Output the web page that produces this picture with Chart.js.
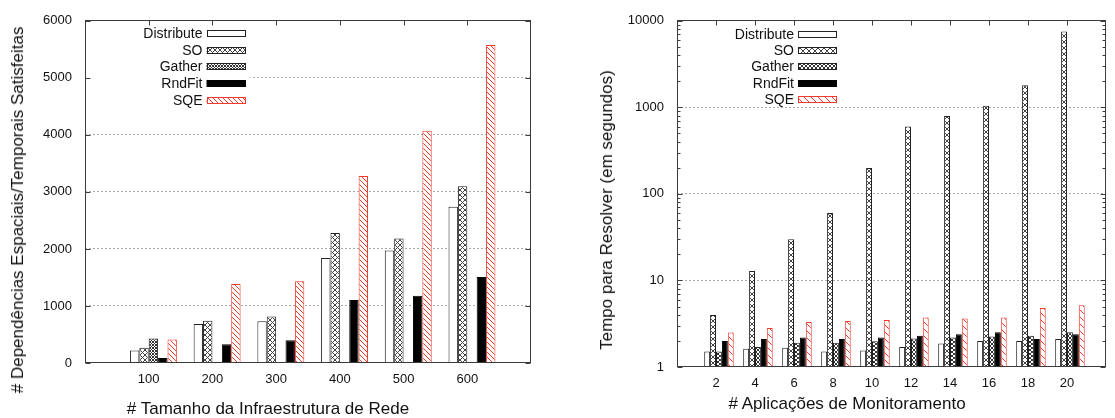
<!DOCTYPE html>
<html>
<head>
<meta charset="utf-8">
<script src="https://cdn.jsdelivr.net/npm/chart.js@4.4.1/dist/chart.umd.min.js"></script>
<style>
    html, body { margin: 0; padding: 0; background: #fff; }
    body { width: 1115px; height: 418px; position: relative; overflow: hidden;
        font-family: 'Liberation Sans', Arial, sans-serif; color: #111; }
    .box { position: absolute; top: 0; }
    .title { position: absolute; font-size: 17px; white-space: nowrap; transform: translate(-50%, -50%); }
    .title.rot { transform: translate(-50%, -50%) rotate(-90deg); }
</style>
</head>
<body>
<div class="box" style="left:0;width:545px;height:418px"><canvas id="sizeChart" width="545" height="418"></canvas></div>
<div class="box" style="left:560px;width:555px;height:418px"><canvas id="timeChart" width="555" height="418"></canvas></div>
<div class="title" style="left:268px;top:409px"># Tamanho da Infraestrutura de Rede</div>
<div class="title rot" style="left:18px;top:210px"># Dependências Espaciais/Temporais Satisfeitas</div>
<div class="title" style="left:847px;top:404px"># Aplicações de Monitoramento</div>
<div class="title rot" style="left:607px;top:210px">Tempo para Resolver (em segundos)</div>
<script>
/* Left chart: dependencies satisfied per network size */
const sizeLabels = ['100', '200', '300', '400', '500', '600'];
const sizeDistribute = [220, 685, 731, 1841, 1974, 2739];
const sizeSO = [268, 742, 817, 2279, 2181, 3101];
const sizeGather = [428, null, null, null, null, null];
const sizeRndFit = [86, 328, 397, 1105, 1180, 1507];
const sizeSQE = [414, 1387, 1433, 3280, 4074, 5575];
const sizeTicks = [0, 1000, 2000, 3000, 4000, 5000, 6000];

/* Right chart: time to solve per number of monitoring apps */
const appLabels = ['2', '4', '6', '8', '10', '12', '14', '16', '18', '20'];
const timeDistribute = [1.51, 1.62, 1.67, 1.51, 1.55, 1.70, 1.87, 2.0, 2.0, 2.1];
const timeSO = [4.0, 12.9, 30, 60, 199, 600, 795, 1045, 1806, 7540];
const timeGather = [1.51, 1.70, 1.9, 1.9, 1.99, 2.13, 2.19, 2.25, 2.29, 2.52];
const timeRndFit = [2.0, 2.1, 2.19, 2.1, 2.19, 2.29, 2.39, 2.52, 2.1, 2.39];
const timeSQE = [2.5, 2.83, 3.32, 3.41, 3.5, 3.72, 3.63, 3.72, 4.81, 5.16];
const timeTicks = [1, 10, 100, 1000, 10000];

const RED = '#ee3b2c';
Chart.defaults.font.family = "'Liberation Sans', Arial, sans-serif";
Chart.defaults.color = '#111';

function hatch(ctx, size, color, dirs, width) {
    var c = document.createElement('canvas');
    c.width = size;
    c.height = size;
    var g = c.getContext('2d');
    g.fillStyle = '#fff';
    g.fillRect(0, 0, size, size);
    g.strokeStyle = color;
    g.lineWidth = width || 1;
    for (let k = -size; k <= size; k += size) {
        if (dirs.indexOf('\\') > -1) {
            g.beginPath(); g.moveTo(k, 0); g.lineTo(k + size, size); g.stroke();
        }
        if (dirs.indexOf('/') > -1) {
            g.beginPath(); g.moveTo(k, size); g.lineTo(k + size, 0); g.stroke();
        }
    }
    return ctx.createPattern(c, 'repeat');
}

function pad(list) {
    return [null].concat(list, [null]);
}

function buildSets(ctx, series, sizes) {
    return [
        // empty slot, like the gnuplot histogram gap
        { label: '', data: [] },
        { label: 'Distribute', data: pad(series[0]), backgroundColor: '#fff', borderColor: '#222' },
        { label: 'SO', data: pad(series[1]), backgroundColor: hatch(ctx, sizes[0], '#444', '\\/'), borderColor: '#222' },
        { label: 'Gather', data: pad(series[2]), backgroundColor: hatch(ctx, sizes[1], '#333', '\\/'), borderColor: '#222' },
        { label: 'RndFit', data: pad(series[3]), backgroundColor: '#000', borderColor: '#000' },
        { label: 'SQE', data: pad(series[4]), backgroundColor: hatch(ctx, sizes[2], RED, '\\'), borderColor: RED }
    ];
}

/* key box, border and inward tick marks */
const gnuplotFrame = {
    id: 'gnuplotFrame',
    afterDatasetsDraw(chart, args, opts) {
        const ctx = chart.ctx;
        const a = chart.chartArea;
        const x = chart.scales.x;
        const y = chart.scales.y;
        ctx.save();
        var sets = chart.data.datasets.filter(function(d) { return d.label; });
        var sx = a.left + opts.keyLeft;
        ctx.fillStyle = '#fff';
        ctx.fillRect(a.left + 1, a.top + opts.keyTop - opts.keyStep / 2,
            opts.keyLeft + opts.keyW + 4, sets.length * opts.keyStep);
        ctx.font = "14px 'Liberation Sans', Arial, sans-serif";
        ctx.textAlign = 'right';
        ctx.textBaseline = 'middle';
        sets.forEach(function(d, i) {
            var cy = Math.round(a.top + opts.keyTop + i * opts.keyStep);
            ctx.fillStyle = d.backgroundColor;
            ctx.fillRect(sx, cy - 3, opts.keyW, 7);
            ctx.strokeStyle = d.borderColor;
            ctx.lineWidth = 1;
            ctx.strokeRect(Math.round(sx) + 0.5, cy - 2.5, opts.keyW - 1, 6);
            ctx.fillStyle = '#111';
            ctx.fillText(d.label, sx - 4, cy + 1);
        });

        var L = Math.floor(a.left) + 0.5, R = Math.floor(a.right) - 0.5;
        var T = Math.floor(a.top) + 0.5, B = Math.floor(a.bottom) - 0.5;
        ctx.strokeStyle = '#3c3c3c';
        ctx.lineWidth = 1;
        ctx.beginPath();
        y.ticks.forEach(function(t) {
            var py = Math.round(y.getPixelForValue(t.value)) + 0.5;
            ctx.moveTo(L, py); ctx.lineTo(L + 5, py);
            ctx.moveTo(R, py); ctx.lineTo(R - 5, py);
            if (opts.minor && t.value < y.max) {
                for (let m = 2; m < 10; m++) {
                    var my = Math.round(y.getPixelForValue(t.value * m)) + 0.5;
                    ctx.moveTo(L, my); ctx.lineTo(L + 3, my);
                    ctx.moveTo(R, my); ctx.lineTo(R - 3, my);
                }
            }
        });
        x.ticks.forEach(function(t, i) {
            if (!t.label) return;
            var px = Math.round(x.getPixelForTick(i)) + 0.5;
            ctx.moveTo(px, T); ctx.lineTo(px, T + 5);
        });
        ctx.stroke();
        ctx.strokeRect(L, T, R - L, B - T);
        ctx.restore();
    }
};

function makeChart(id, labels, series, sizes, yAxis, layout, key) {
    const ctx = document.getElementById(id).getContext('2d');
    return new Chart(ctx, {
        type: 'bar',
        data: {
            labels: [''].concat(labels, ['']),
            datasets: buildSets(ctx, series, sizes)
        },
        options: {
            responsive: false,
            animation: false,
            layout: { padding: layout.padding },
            datasets: {
                bar: { categoryPercentage: layout.catPct, barPercentage: 1, borderWidth: 1 }
            },
            scales: {
                x: {
                    offset: false,
                    grid: { display: false, drawTicks: false },
                    border: { display: false },
                    ticks: { padding: layout.xPad, font: { size: 13 }, autoSkip: false, maxRotation: 0 },
                    afterFit: function(s) { s.height = layout.xHeight; }
                },
                y: yAxis
            },
            plugins: {
                legend: { display: false },
                tooltip: { enabled: false },
                gnuplotFrame: key
            }
        },
        plugins: [gnuplotFrame]
    });
}

function gridColor(lo, hi) {
    return function(c) {
        return (c.tick && c.tick.value > lo && c.tick.value < hi) ? '#a8a8a8' : 'rgba(0,0,0,0)';
    };
}

makeChart('sizeChart', sizeLabels,
    [sizeDistribute, sizeSO, sizeGather, sizeRndFit, sizeSQE], [5, 3, 5],
    {
        min: 0, max: 6000,
        afterBuildTicks: function(s) { s.ticks = sizeTicks.map(function(v) { return { value: v }; }); },
        ticks: { padding: 13, font: { size: 13 }, callback: function(v) { return String(v); } },
        grid: { drawTicks: false, color: gridColor(0, 6000) },
        border: { display: false, dash: [2, 2] },
        afterFit: function(s) { s.width = 85; }
    },
    { padding: { left: 0, right: 14, top: 15, bottom: 0 }, catPct: 0.884, xPad: 9, xHeight: 55 },
    { keyLeft: 121.5, keyTop: 12, keyStep: 16.8, keyW: 39, minor: false });

makeChart('timeChart', appLabels,
    [timeDistribute, timeSO, timeGather, timeRndFit, timeSQE], [6, 4, 7],
    {
        type: 'logarithmic', min: 1, max: 10000,
        afterBuildTicks: function(s) { s.ticks = timeTicks.map(function(v) { return { value: v }; }); },
        ticks: { padding: 13, font: { size: 13 }, callback: function(v) { return String(v); } },
        grid: { drawTicks: false, color: gridColor(1, 10000) },
        border: { display: false, dash: [2, 2] },
        afterFit: function(s) { s.width = 117; }
    },
    { padding: { left: 0, right: 2, top: 19, bottom: 0 }, catPct: 0.909, xPad: 9, xHeight: 51 },
    { keyLeft: 121, keyTop: 13, keyStep: 16.25, keyW: 39, minor: true });
</script>
</body>
</html>
